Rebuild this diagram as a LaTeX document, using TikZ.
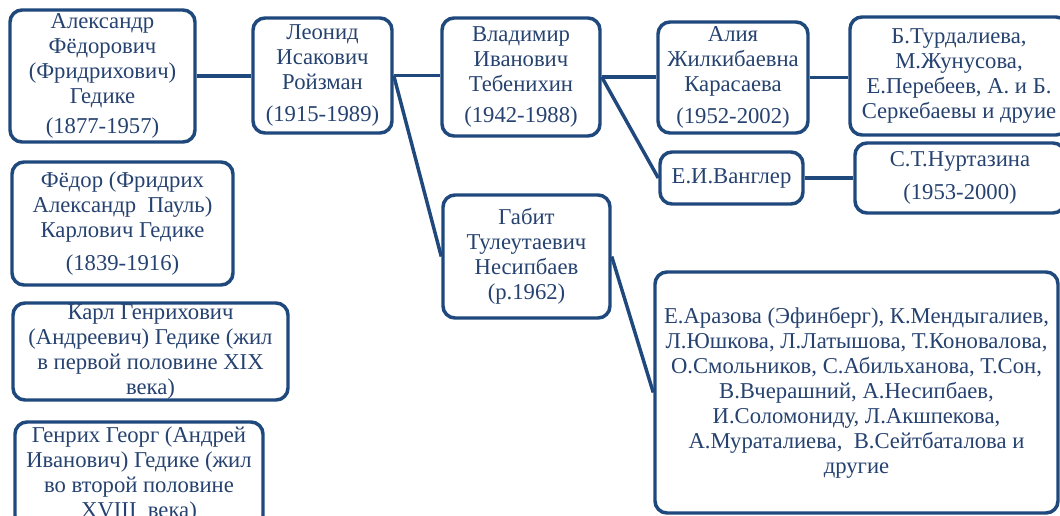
\documentclass[tikz,border=0pt]{standalone}
\usepackage{fontspec}
\setmainfont{Liberation Serif}
\usetikzlibrary{positioning,calc}
\definecolor{boxblue}{RGB}{31,73,125}
\definecolor{textblue}{RGB}{38,66,112}

\begin{document}
\begin{tikzpicture}[x=0.75pt, y=-0.75pt,
            every node/.style={draw=boxblue, line width=2.6pt, rounded corners=9pt,
                align=center, inner sep=0pt, text=textblue,
                font=\fontsize{17pt}{18.75pt}\selectfont},
            boxsize/.style 2 args={minimum width=#1*0.75pt, minimum height=#2*0.75pt},
            link/.style={draw=boxblue, line width=2.6pt}]
        \useasboundingbox (0,0) rectangle (1060,515);
        \clip (0,0) rectangle (1060,515);
        \fill[white] (0,0) rectangle (1060,515);

        % main line
        \node[boxsize={185}{132}] (nodeAlex) at (102.5,76)
            {Александр\\Фёдорович\\(Фридрихович)\\Гедике\\[4pt](1877-1957)};
        \node[boxsize={139}{115}] (nodeLeonid) at (322.5,75.5)
            {Леонид\\Исакович\\Ройзман\\[5pt](1915-1989)};
        \node[boxsize={158}{118}] (nodeVlad) at (521,77)
            {Владимир\\Иванович\\Тебенихин\\[5pt](1942-1988)};
        \node[boxsize={150}{111}] (nodeAliya) at (733,77.5)
            {Алия\\Жилкибаевна\\Карасаева\\[5pt](1952-2002)};
        \node[boxsize={218}{118}] (nodeTurd) at (959,76)
            {Б.Турдалиева,\\М.Жунусова,\\Е.Перебеев, А. и Б.\\Серкебаевы и друие};
        \node[boxsize={143}{52}] (nodeWang) at (731.5,178) {Е.И.Ванглер};
        \node[boxsize={210}{70}] (nodeNurt) at (960,178)
            {С.Т.Нуртазина\\[6pt](1953-2000)};
        \node[boxsize={167}{123}] (nodeGabit) at (526.5,256.5)
            {Габит\\Тулеутаевич\\Несипбаев\\(р.1962)};
        \node[boxsize={403}{241}] (nodeStud) at (856.5,392.5)
            {Е.Аразова (Эфинберг), К.Мендыгалиев,\\Л.Юшкова, Л.Латышова, Т.Коновалова,\\
             О.Смольников, С.Абильханова, Т.Сон,\\В.Вчерашний, А.Несипбаев,\\
             И.Соломониду, Л.Акшпекова,\\А.Мураталиева,\ \ В.Сейтбаталова и\\другие};

        % ancestors
        \node[boxsize={221}{123}] (nodeFedor) at (122.5,223.5)
            {Фёдор (Фридрих\\Александр\ \ Пауль)\\Карлович Гедике\\[6pt](1839-1916)};
        \node[boxsize={275}{97}] (nodeKarl) at (150.5,351.5)
            {Карл Генрихович\\(Андреевич) Гедике (жил\\в первой половине XIX\\века)};
        \node[boxsize={248}{106}] (nodeGenr) at (139,475)
            {Генрих Георг (Андрей\\Иванович) Гедике (жил\\во второй половине\\XVIII\ \ века)};

        \draw[link] (nodeAlex.east) -- (nodeAlex.east -| nodeLeonid.west);
        \draw[link] (nodeLeonid.east) -- (nodeLeonid.east -| nodeVlad.west);
        \draw[link] (nodeLeonid.east) -- (nodeGabit.west);
        \draw[link] (nodeVlad.east) -- (nodeVlad.east -| nodeAliya.west);
        \draw[link] (nodeVlad.east) -- (nodeWang.west);
        \draw[link] (nodeAliya.east) -- (nodeAliya.east -| nodeTurd.west);
        \draw[link] (nodeWang.east) -- (nodeWang.east -| nodeNurt.west);
        \draw[link] (nodeGabit.east) -- (nodeStud.west);
\end{tikzpicture}
\end{document}
